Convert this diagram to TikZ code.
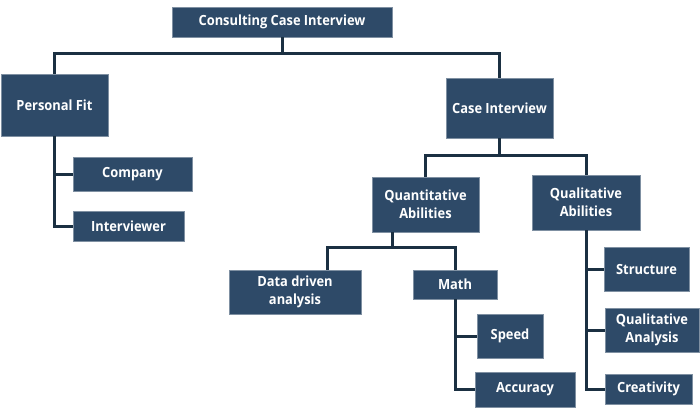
\documentclass[tikz,border=0pt]{standalone}
\usepackage{fontspec}
\setmainfont[FakeStretch=0.92]{Open Sans}
\usetikzlibrary{positioning}
\definecolor{CaseBlue}{HTML}{2E4A68}
\definecolor{CaseLine}{HTML}{1B3042}
\definecolor{CaseEdge}{HTML}{7F90A2}

\begin{document}
\begin{tikzpicture}[x=1pt, y=-1pt,
  box/.style={draw=CaseEdge, line width=0.6pt, fill=CaseBlue, text=white,
    font=\bfseries\fontsize{14}{18}\selectfont, align=center, inner sep=0pt},
  link/.style={CaseLine, line width=3pt}]
\useasboundingbox (0,0) rectangle (700,412);

% Boxes, top level
\node[box, minimum width=220pt, minimum height=30pt] (root) at (282,22) {Consulting Case Interview};
\node[box, minimum width=107pt, minimum height=62pt] (fit) at (54.5,105) {Personal Fit};
\node[box, minimum width=107pt, minimum height=60pt] (caseint) at (499.5,108) {Case Interview};

% Personal fit branch
\node[box, minimum width=119pt, minimum height=34pt] (company) at (132.5,174) {Company};
\node[box, minimum width=111pt, minimum height=30pt] (interviewer) at (128.5,226) {Interviewer};

% Case interview branch
\node[box, minimum width=107pt, minimum height=55pt] (quant) at (425.5,204.5) {Quantitative\\Abilities};
\node[box, minimum width=108pt, minimum height=55pt] (qual) at (586,202.5) {Qualitative\\Abilities};
\node[box, minimum width=132pt, minimum height=44pt] (data) at (295,292) {Data driven\\analysis};
\node[box, minimum width=84pt, minimum height=29pt] (math) at (455,284.5) {Math};
\node[box, minimum width=66pt, minimum height=44pt] (speed) at (510,336) {Speed};
\node[box, minimum width=100pt, minimum height=35pt] (accuracy) at (525,389.5) {Accuracy};
\node[box, minimum width=85pt, minimum height=44pt] (structure) at (646.5,269) {Structure};
\node[box, minimum width=94pt, minimum height=44pt] (qualana) at (652,330) {Qualitative\\Analysis};
\node[box, minimum width=87pt, minimum height=30pt] (creativity) at (648.5,389) {Creativity};

% Junctions
\coordinate (bus1) at (282,53);
\coordinate (bus2) at (499.5,155);
\coordinate (bus3) at (392,247);
\coordinate (dd) at (327,247);

% Connectors
\draw[link] (root.south) -- (bus1);
\draw[link] (fit.north) |- (bus1) -| (caseint.north);
\draw[link] (fit.south) |- (company.west);
\draw[link] (fit.south) |- (interviewer.west);

\draw[link] (caseint.south) -- (bus2);
\draw[link] (quant.north) |- (bus2) -| (qual.north);
\draw[link] (quant.south -| bus3) -- (bus3);
\draw[link] (data.north -| dd) -- (dd) -| (math.north);
\draw[link] (math.south) |- (speed.west);
\draw[link] (math.south) |- (accuracy.west);
\draw[link] (qual.south) |- (structure.west);
\draw[link] (qual.south) |- (qualana.west);
\draw[link] (qual.south) |- (creativity.west);
\end{tikzpicture}
\end{document}
